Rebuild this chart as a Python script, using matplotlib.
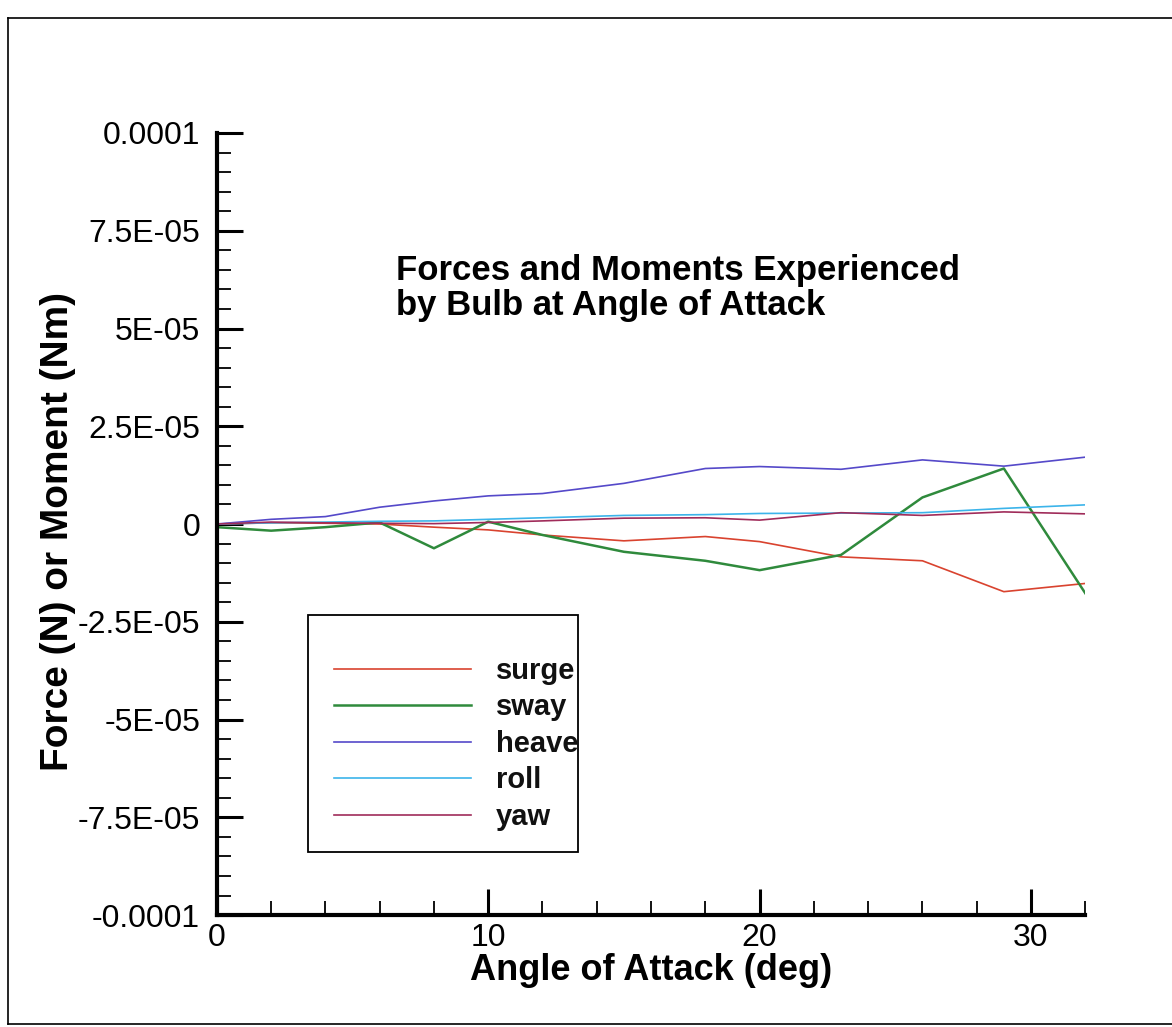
import matplotlib
matplotlib.use('Agg')
import matplotlib.pyplot as plt
from matplotlib.patches import Rectangle
from matplotlib.lines import Line2D

plt.rcParams['font.family'] = ['Liberation Sans', 'DejaVu Sans']

# angle of attack (deg)
angle = [0, 2, 4, 6, 8, 10, 12, 15, 18, 20, 23, 26, 29, 32]

# forces / moments, in units of 1e-6
surge = [0.0, 0.3, 0.2, 0.0, -0.8, -1.5, -2.8, -4.3, -3.2, -4.5, -8.4, -9.4, -17.3, -15.2]
sway = [-0.8, -1.7, -0.8, 0.4, -6.2, 0.6, -2.8, -7.1, -9.4, -11.8, -7.9, 6.8, 14.2, -17.7]
heave = [0.0, 1.2, 1.9, 4.3, 5.9, 7.2, 7.8, 10.4, 14.2, 14.7, 14.0, 16.4, 14.8, 17.1]
roll = [0.0, 0.3, 0.5, 0.7, 0.8, 1.2, 1.6, 2.2, 2.4, 2.7, 2.8, 2.9, 4.0, 4.9]
yaw = [0.0, 0.5, 0.3, 0.2, 0.1, 0.4, 0.8, 1.5, 1.6, 1.0, 2.9, 2.2, 3.1, 2.6]

series_names = ['surge', 'sway', 'heave', 'roll', 'yaw']
colors = ['#d9432f', '#2f8a3c', '#5549c9', '#3cb4ea', '#a02c5a']

y_ticks = [1e-4, 7.5e-5, 5e-5, 2.5e-5, 0, -2.5e-5, -5e-5, -7.5e-5, -1e-4]
y_tick_labels = ['0.0001', '7.5E-05', '5E-05', '2.5E-05', '0',
                 '-2.5E-05', '-5E-05', '-7.5E-05', '-0.0001']
x_ticks = [0, 10, 20, 30]


def main():
    fig = plt.figure(figsize=(11.72, 10.27), dpi=100)
    ax = fig.add_axes([0.185, 0.109, 0.741, 0.7615])

    data = [surge, sway, heave, roll, yaw]
    for name, vals, c in zip(series_names, data, colors):
        lw = 1.8 if name == 'sway' else 1.2
        ax.plot(angle, [v * 1e-6 for v in vals], color=c, lw=lw, label=name)

    ax.set_xlim(0, 32)
    ax.set_ylim(-1e-4, 1e-4)
    ax.set_xticks(x_ticks)
    ax.set_xticks(range(0, 33, 2), minor=True)
    ax.set_yticks(y_ticks)
    ax.set_yticklabels(y_tick_labels)
    ax.set_yticks([i * 5e-6 for i in range(-20, 21)], minor=True)

    for s in ['top', 'right']:
        ax.spines[s].set_visible(False)
    for s in ['left', 'bottom']:
        ax.spines[s].set_linewidth(3)
    ax.tick_params(which='major', direction='in', length=19, width=2.2,
                   labelsize=23)
    ax.tick_params(which='minor', direction='in', length=10, width=1.3)
    ax.tick_params(axis='y', which='major', pad=12)
    ax.tick_params(axis='x', which='major', pad=6)

    ax.set_xlabel('Angle of Attack (deg)', fontsize=26, fontweight='bold',
                  labelpad=0)
    ax.set_ylabel('Force (N) or Moment (Nm)', fontsize=28, fontweight='bold',
                  labelpad=0)
    ax.yaxis.set_label_coords(-0.162, 0.49)

    ax.text(0.206, 0.845, 'Forces and Moments Experienced\nby Bulb at Angle of Attack',
            transform=ax.transAxes, ha='left', va='top', fontsize=25,
            fontweight='bold', linespacing=1.05)

    # legend box drawn separately, the legend itself has no frame
    ax.add_patch(Rectangle((0.105, 0.081), 0.311, 0.303, transform=ax.transAxes,
                           fill=False, edgecolor='black', lw=1.3, clip_on=False))
    leg = ax.legend(loc='upper left', bbox_to_anchor=(0.135, 0.33),
                    frameon=False, handlelength=4.7, handletextpad=0.85,
                    labelspacing=0.29, borderpad=0, borderaxespad=0,
                    prop={'size': 21, 'weight': 'bold'})
    for t in leg.get_texts():
        t.set_color('#111111')

    # page frame from the scan
    fig.add_artist(Line2D([0.007, 0.007], [0.003, 0.982], color='black', lw=1.2))
    fig.add_artist(Line2D([0.007, 1.0], [0.982, 0.982], color='black', lw=1.2))
    fig.add_artist(Line2D([0.007, 1.0], [0.003, 0.003], color='black', lw=1.2))

    fig.savefig('out.png', dpi=100)


if __name__ == '__main__':
    main()
